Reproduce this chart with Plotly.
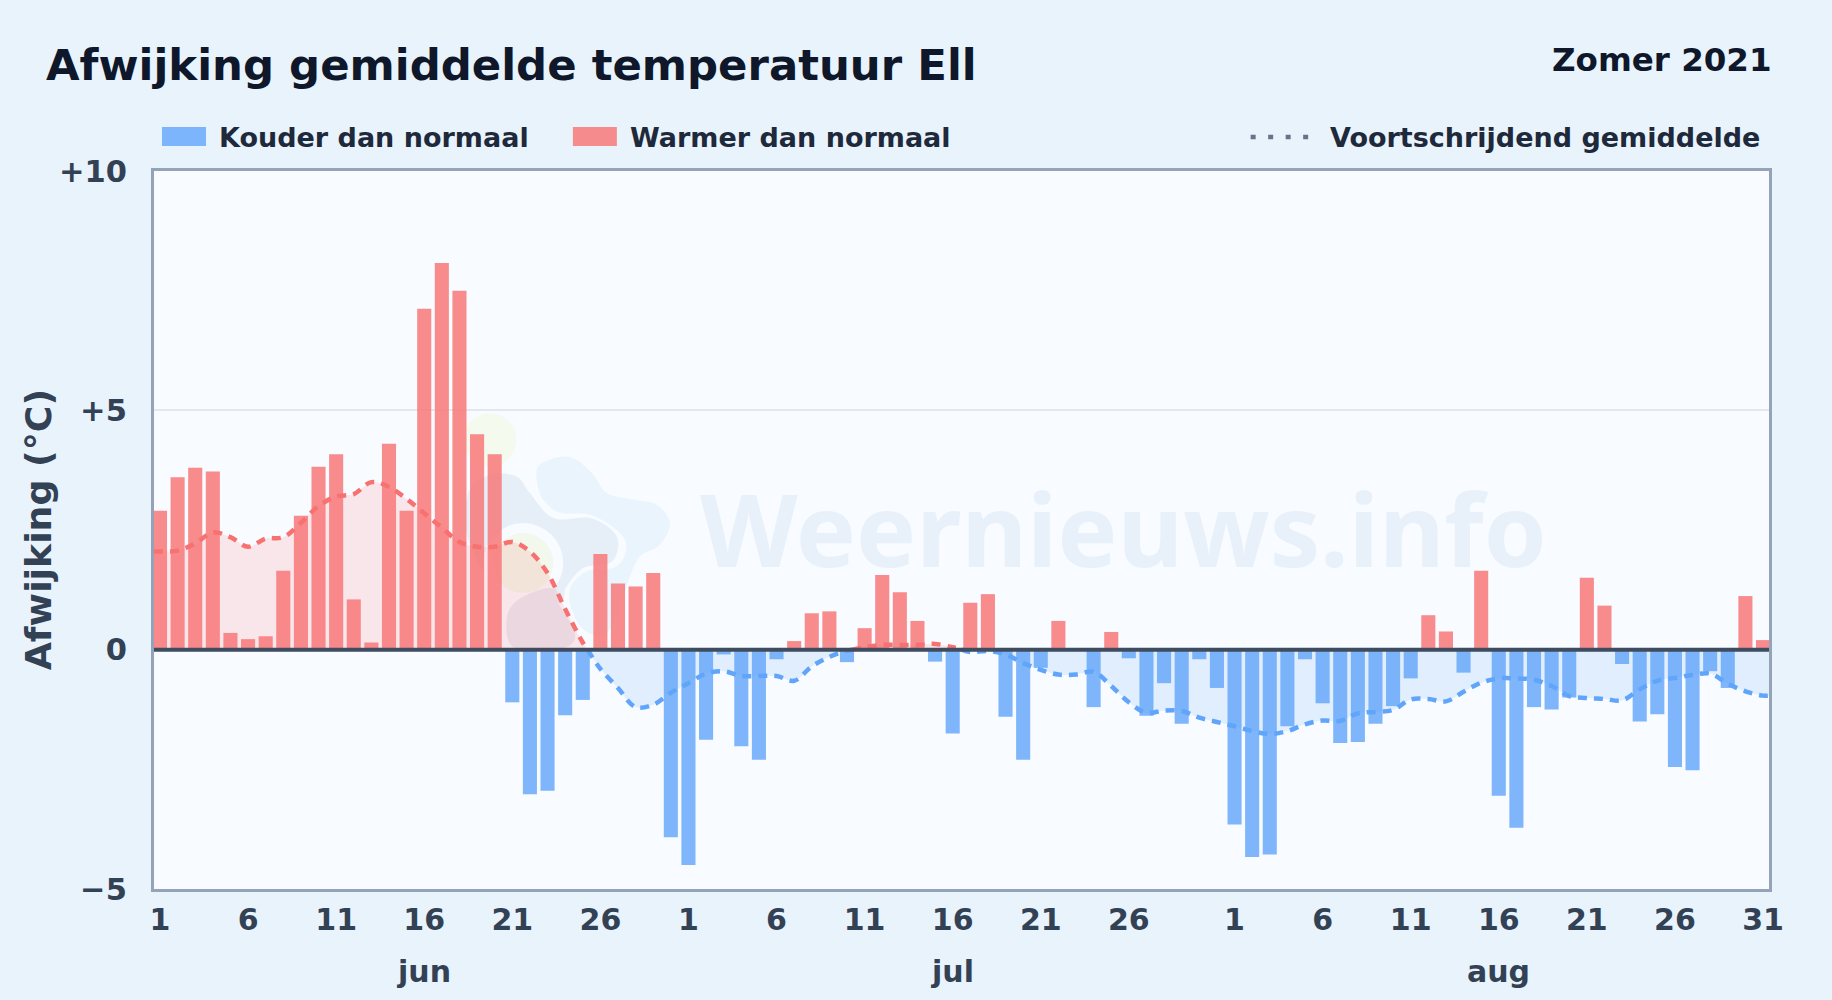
import plotly.graph_objects as go

W, H = 1832, 1000
L, R, T, B = 154.0, 1769.5, 171.0, 889.5

TITLE = "Afwijking gemiddelde temperatuur Ell"
SEASON = "Zomer 2021"
Y_TITLE = "Afwijking (°C)"
LEGEND_COLD = "Kouder dan normaal"
LEGEND_WARM = "Warmer dan normaal"
LEGEND_AVG = "Voortschrijdend gemiddelde"
WATERMARK = "Weernieuws.info"

june = [2.9, 3.6, 3.8, 3.72, 0.35, 0.22, 0.28, 1.65, 2.8, 3.82, 4.08, 1.05, 0.15, 4.3, 2.9,
        7.12, 8.08, 7.5, 4.5, 4.08, -1.1, -3.02, -2.95, -1.37, -1.05, 2.0, 1.38, 1.32, 1.6, -3.92]
july = [-4.5, -1.88, -0.1, -2.02, -2.3, -0.2, 0.18, 0.76, 0.8, -0.26, 0.45, 1.56, 1.2, 0.6, -0.25,
        -1.75, 0.98, 1.16, -1.4, -2.3, -0.38, 0.6, 0.0, -1.2, 0.37, -0.18, -1.38, -0.7, -1.55, -0.2, -0.8]
august = [-3.65, -4.33, -4.28, -1.6, -0.2, -1.12, -1.95, -1.93, -1.55, -1.18, -0.6, 0.72, 0.38, -0.48,
          1.65, -3.05, -3.72, -1.2, -1.25, -1.0, 1.5, 0.92, -0.3, -1.5, -1.35, -2.45, -2.52, -0.45, -0.8, 1.12, 0.2]

avg_june = [2.05, 2.07, 2.22, 2.45, 2.35, 2.15, 2.32, 2.35, 2.65, 3.0, 3.2, 3.25, 3.5, 3.4, 3.15,
            2.85, 2.55, 2.25, 2.15, 2.15, 2.25, 2.05, 1.6, 0.85, 0.15, -0.4, -0.8, -1.2, -1.15, -0.9]
avg_july = [-0.7, -0.5, -0.45, -0.55, -0.55, -0.55, -0.65, -0.35, -0.15, -0.02, 0.05, 0.1, 0.1, 0.1, 0.12,
            0.05, -0.05, -0.03, -0.1, -0.28, -0.42, -0.52, -0.52, -0.46, -0.76, -1.1, -1.32, -1.27, -1.28, -1.42, -1.51]
avg_august = [-1.6, -1.7, -1.76, -1.7, -1.56, -1.48, -1.49, -1.33, -1.3, -1.26, -1.04, -1.03, -1.08, -0.88,
              -0.69, -0.6, -0.6, -0.63, -0.76, -0.97, -1.01, -1.03, -1.06, -0.83, -0.65, -0.59, -0.53, -0.5, -0.71, -0.87, -0.96]

month_names = ["jun", "jul", "aug"]
month_lengths = [30, 31, 31]
month_tick_days = [[1, 6, 11, 16, 21, 26], [1, 6, 11, 16, 21, 26], [1, 6, 11, 16, 21, 26, 31]]
y_ticks = [-5, 0, 5, 10]
y_tick_labels = ["−5", "0", "+5", "+10"]

deviation = june + july + august
moving_avg = avg_june + avg_july + avg_august
days = list(range(len(deviation)))

tick_vals, tick_text, month_centers = [], [], []
start = 0
for n, tds in zip(month_lengths, month_tick_days):
    for d in tds:
        tick_vals.append(start + d - 1)
        tick_text.append(str(d))
    month_centers.append(start + 15)
    start += n

X_MIN, X_MAX = -0.34, 91.34

COLD, WARM = "#60a5fa", "#f87171"
COLD_BAR, WARM_BAR = "rgba(96,165,250,0.8)", "rgba(248,113,113,0.8)"
COLD_FILL, WARM_FILL = "rgba(96,165,250,0.15)", "rgba(248,113,113,0.15)"
PAGE, PLOT = "#e8f3fc", "#f8fbff"
FONT = "DejaVu Sans"
INK, INK2, INK3 = "#0f172a", "#1e293b", "#334155"


def segments(xs, ys):
    """Split the curve wherever it changes sign, keeping the sign per segment."""
    out, cx, cy = [], [xs[0]], [ys[0]]
    for i in range(1, len(xs)):
        if (ys[i - 1] >= 0) != (ys[i] >= 0):
            t = ys[i - 1] / (ys[i - 1] - ys[i])
            xc = xs[i - 1] + t * (xs[i] - xs[i - 1])
            out.append((cx + [xc], cy + [0.0]))
            cx, cy = [xc], [0.0]
        cx.append(xs[i])
        cy.append(ys[i])
    out.append((cx, cy))
    return out


def px(x):
    return (x - L) / (R - L)


def py(y):
    return (B - y) / (B - T)


def blob(points, color):
    """Closed smooth shape for the watermark logo, from pixels in a 3x crop at (440,390)."""
    p = [(440 + a / 3, 390 + b / 3) for a, b in points]
    n = len(p)
    d = f"M{px(p[0][0]):.5f},{py(p[0][1]):.5f}"
    for i in range(n):
        p0, p1, p2, p3 = p[i - 1], p[i], p[(i + 1) % n], p[(i + 2) % n]
        c1 = (p1[0] + (p2[0] - p0[0]) / 6, p1[1] + (p2[1] - p0[1]) / 6)
        c2 = (p2[0] - (p3[0] - p1[0]) / 6, p2[1] - (p3[1] - p1[1]) / 6)
        d += f"C{px(c1[0]):.5f},{py(c1[1]):.5f} {px(c2[0]):.5f},{py(c2[1]):.5f} {px(p2[0]):.5f},{py(p2[1]):.5f}"
    return dict(type="path", path=d + "Z", xref="paper", yref="paper", fillcolor=color,
                line_width=0, layer="below")


def disc(cx, cy, r, color):
    return dict(type="circle", xref="paper", yref="paper",
                x0=px(440 + (cx - r) / 3), x1=px(440 + (cx + r) / 3),
                y0=py(390 + (cy + r) / 3), y1=py(390 + (cy - r) / 3),
                fillcolor=color, line_width=0, layer="below")


fig = go.Figure()
fig.add_bar(x=days, y=[v if v < 0 else None for v in deviation], name=LEGEND_COLD,
            marker_color=COLD_BAR, marker_line_width=0, width=0.8)
fig.add_bar(x=days, y=[v if v >= 0 else None for v in deviation], name=LEGEND_WARM,
            marker_color=WARM_BAR, marker_line_width=0, width=0.8)
line_x = [X_MIN] + days + [X_MAX]
line_y = [moving_avg[0]] + moving_avg + [moving_avg[-1]]
for sx, sy in segments(line_x, line_y):
    warm = sum(sy) > 0
    fig.add_scatter(x=sx, y=sy, mode="lines", name=LEGEND_AVG, fill="tozeroy",
                    fillcolor=WARM_FILL if warm else COLD_FILL,
                    line=dict(color=WARM if warm else COLD, width=4.5, shape="spline", dash="9px,7px"),
                    opacity=0.9)

shapes = [
    disc(150, 150, 80, "#f5faef"),
    blob([(290, 265), (330, 210), (400, 205), (460, 255), (500, 310), (580, 330), (650, 345), (690, 400),
          (660, 465), (600, 500), (570, 560), (540, 650), (500, 730), (430, 720), (390, 640), (360, 500)], "#e9f4fd"),
    blob([(70, 290), (140, 240), (230, 245), (285, 300), (350, 365), (450, 375), (530, 420), (560, 470),
          (530, 530), (440, 545), (390, 600), (400, 680), (440, 760), (200, 770), (70, 600)], PLOT),
    blob([(85, 310), (150, 255), (230, 260), (270, 310), (340, 385), (450, 385), (520, 425), (535, 470),
          (510, 520), (430, 535), (380, 590), (350, 640), (180, 600), (85, 450)], "#e6eff8"),
    disc(250, 520, 120, PLOT),
    disc(250, 520, 90, "#f3f8ec"),
    blob([(200, 690), (235, 630), (330, 595), (355, 640), (405, 730), (370, 775), (225, 775)], "#e9e9f3"),
    # legend swatches and dotted sample
    dict(type="rect", xref="paper", yref="paper", x0=px(162), x1=px(206), y0=py(146), y1=py(127),
         fillcolor=COLD_BAR, line_width=0),
    dict(type="rect", xref="paper", yref="paper", x0=px(573), x1=px(617), y0=py(146), y1=py(127),
         fillcolor=WARM_BAR, line_width=0),
    dict(type="line", xref="paper", yref="paper", x0=px(1251), x1=px(1309), y0=py(137), y1=py(137),
         line=dict(color="#64748b", width=4.5, dash="5px,12.5px")),
    # zero line on top of the bars
    dict(type="line", xref="paper", yref="y", x0=0, x1=1, y0=0, y1=0,
         line=dict(color="#3f4c5f", width=4)),
]

anns = [
    dict(text=WATERMARK, xref="paper", yref="paper", x=px(1124), y=py(528), showarrow=False,
         font=dict(family="Noto Sans", size=101, color="#e8f1f9", weight="bold"), xanchor="center", yanchor="middle"),
    dict(text=SEASON, xref="paper", yref="paper", x=px(1775), y=py(60), showarrow=False,
         font=dict(family=FONT, size=32.5, color=INK, weight="bold"), xanchor="right", yanchor="middle"),
    dict(text=LEGEND_COLD, xref="paper", yref="paper", x=px(217.5), y=py(137), showarrow=False,
         font=dict(family=FONT, size=27, color=INK2, weight="bold"), xanchor="left", yanchor="middle"),
    dict(text=LEGEND_WARM, xref="paper", yref="paper", x=px(628), y=py(137), showarrow=False,
         font=dict(family=FONT, size=27, color=INK2, weight="bold"), xanchor="left", yanchor="middle"),
    dict(text=LEGEND_AVG, xref="paper", yref="paper", x=px(1328), y=py(137), showarrow=False,
         font=dict(family=FONT, size=27, color=INK2, weight="bold"), xanchor="left", yanchor="middle"),
    dict(text=Y_TITLE, xref="paper", yref="paper", x=px(38), y=py(530.5), showarrow=False, textangle=-90,
         font=dict(family=FONT, size=36.3, color=INK3, weight="bold"), xanchor="center", yanchor="middle"),
]
for name, c in zip(month_names, month_centers):
    anns.append(dict(text=name, xref="x", yref="paper", x=c, y=py(972), showarrow=False,
                     font=dict(family=FONT, size=30, color=INK3, weight="bold"),
                     xanchor="center", yanchor="middle"))

fig.update_layout(
    width=W, height=H, autosize=False,
    margin=dict(l=L, r=W - R, t=T, b=H - B, pad=0),
    paper_bgcolor=PAGE, plot_bgcolor=PLOT,
    barmode="overlay", showlegend=False,
    title=dict(text=TITLE, x=46 / W, xanchor="left", xref="container",
               y=1 - 65 / H, yanchor="middle", font=dict(family=FONT, size=43.4, color=INK, weight="bold")),
    shapes=shapes, annotations=anns,
    xaxis=dict(range=[X_MIN, X_MAX], tickmode="array", tickvals=tick_vals, ticktext=tick_text, tickangle=0,
               ticks="outside", ticklen=2, tickcolor="rgba(0,0,0,0)", showgrid=False, zeroline=False,
               showline=True, mirror=True, linecolor="#94a3b8", linewidth=3,
               tickfont=dict(family=FONT, size=30, color=INK3, weight="bold")),
    yaxis=dict(range=[-5, 10], tickmode="array", tickvals=y_ticks, ticktext=y_tick_labels,
               ticks="outside", ticklen=18, tickcolor="rgba(0,0,0,0)", gridcolor="#e2e8ec", gridwidth=2,
               zeroline=False, showline=True, mirror=True, linecolor="#94a3b8", linewidth=3,
               tickfont=dict(family=FONT, size=30.5, color=INK3, weight="bold")),
)

fig.write_html("out.html", config=dict(displayModeBar=False),
               post_script="document.body.style.margin='0';document.body.style.overflow='hidden';"
                           f"document.body.style.background='{PAGE}';")
